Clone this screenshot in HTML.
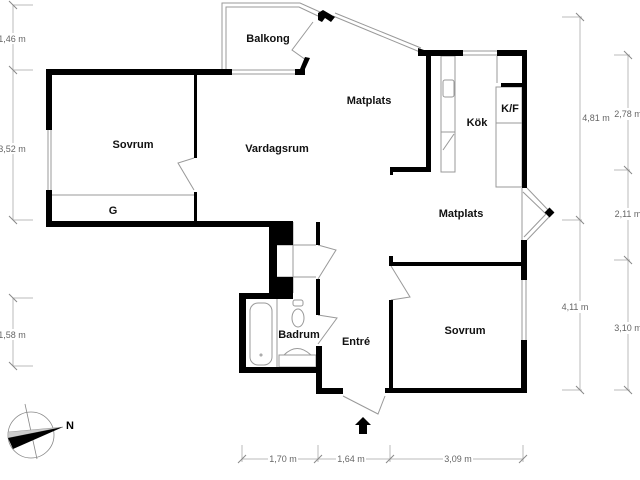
<!DOCTYPE html>
<html><head><meta charset="utf-8"><style>
html,body{margin:0;padding:0;background:#fff}
svg{display:block}
.l{font-family:"Liberation Sans",sans-serif;font-weight:bold;font-size:11px;fill:#111;text-anchor:middle}
.d{font-family:"Liberation Sans",sans-serif;font-size:9px;fill:#666;text-anchor:middle}
</style></head><body>
<svg width="640" height="480" viewBox="0 0 640 480" xmlns="http://www.w3.org/2000/svg">
<g fill="none" stroke="#bbb" stroke-width="1">
 <line x1="13" y1="5" x2="13" y2="220"/>
 <line x1="13" y1="5" x2="33" y2="5"/><line x1="13" y1="70" x2="33" y2="70"/><line x1="13" y1="220" x2="33" y2="220"/>
 <line x1="13" y1="298" x2="13" y2="366"/>
 <line x1="13" y1="298" x2="33" y2="298"/><line x1="13" y1="366" x2="33" y2="366"/>
 <line x1="580" y1="17" x2="580" y2="390"/>
 <line x1="562" y1="17" x2="582" y2="17"/><line x1="562" y1="220" x2="582" y2="220"/><line x1="562" y1="390" x2="582" y2="390"/>
 <line x1="628" y1="55" x2="628" y2="390"/>
 <line x1="614" y1="55" x2="630" y2="55"/><line x1="614" y1="170" x2="630" y2="170"/><line x1="614" y1="260" x2="630" y2="260"/><line x1="614" y1="390" x2="630" y2="390"/>
 <line x1="242" y1="459" x2="523" y2="459"/>
 <line x1="242" y1="445" x2="242" y2="462"/><line x1="318" y1="445" x2="318" y2="462"/><line x1="390" y1="445" x2="390" y2="462"/><line x1="523" y1="445" x2="523" y2="462"/>
</g>
<g stroke="#888" stroke-width="1">
 <line x1="9" y1="1" x2="17" y2="9"/><line x1="9" y1="66" x2="17" y2="74"/><line x1="9" y1="216" x2="17" y2="224"/>
 <line x1="9" y1="294" x2="17" y2="302"/><line x1="9" y1="362" x2="17" y2="370"/>
 <line x1="576" y1="13" x2="584" y2="21"/><line x1="576" y1="216" x2="584" y2="224"/><line x1="576" y1="386" x2="584" y2="394"/>
 <line x1="624" y1="51" x2="632" y2="59"/><line x1="624" y1="166" x2="632" y2="174"/><line x1="624" y1="256" x2="632" y2="264"/><line x1="624" y1="386" x2="632" y2="394"/>
 <line x1="238" y1="463" x2="246" y2="455"/><line x1="314" y1="463" x2="322" y2="455"/><line x1="386" y1="463" x2="394" y2="455"/><line x1="519" y1="463" x2="527" y2="455"/>
</g>
<rect x="0" y="33" width="28" height="11" fill="#fff"/>
<rect x="0" y="143" width="28" height="11" fill="#fff"/>
<rect x="0" y="329" width="28" height="11" fill="#fff"/>
<rect x="582" y="112" width="28" height="12" fill="#fff"/>
<rect x="560" y="301" width="28" height="12" fill="#fff"/>
<rect x="614" y="108" width="26" height="12" fill="#fff"/>
<rect x="614" y="208" width="26" height="12" fill="#fff"/>
<rect x="614" y="322" width="26" height="12" fill="#fff"/>
<rect x="268" y="453" width="30" height="12" fill="#fff"/>
<rect x="336" y="453" width="30" height="12" fill="#fff"/>
<rect x="443" y="453" width="30" height="12" fill="#fff"/>
<text class="d" x="12" y="42">1,46 m</text>
<text class="d" x="12" y="152">3,52 m</text>
<text class="d" x="12" y="338">1,58 m</text>
<text class="d" x="596" y="121">4,81 m</text>
<text class="d" x="575" y="310">4,11 m</text>
<text class="d" x="628" y="117">2,78 m</text>
<text class="d" x="628" y="217">2,11 m</text>
<text class="d" x="628" y="331">3,10 m</text>
<text class="d" x="283" y="462">1,70 m</text>
<text class="d" x="351" y="462">1,64 m</text>
<text class="d" x="458" y="462">3,09 m</text>

<g fill="none" stroke="#999" stroke-width="1">
 <polyline points="222,70 222,3 300,3 320,12"/>
 <polyline points="226,70 226,7 299,7 318,16"/>
 <line x1="232" y1="70" x2="295" y2="70"/><line x1="232" y1="74" x2="295" y2="74"/>
 <line x1="333" y1="16" x2="420" y2="52"/><line x1="335" y1="13" x2="421" y2="48"/>
 <polyline points="313,22 292,50 306,60"/>
 <line x1="48" y1="130" x2="48" y2="190"/><line x1="51" y1="130" x2="51" y2="190"/>
 <line x1="52" y1="195" x2="194" y2="195"/>
 <polyline points="194,158 178,163 194,190"/>
 <line x1="463" y1="51" x2="497" y2="51"/><line x1="463" y1="55" x2="497" y2="55"/>
 <rect x="441" y="56" width="14" height="116"/>
 <rect x="443" y="80" width="11" height="17" rx="2"/>
 <line x1="441" y1="132" x2="455" y2="132"/><line x1="443" y1="150" x2="454" y2="134"/>
 <line x1="497" y1="56" x2="497" y2="83"/>
 <rect x="496" y="87" width="26" height="100"/>
 <line x1="496" y1="123" x2="522" y2="123"/>
 <line x1="527" y1="188" x2="550" y2="212"/><line x1="523" y1="192" x2="546" y2="214"/>
 <line x1="550" y1="216" x2="527" y2="240"/><line x1="546" y1="214" x2="524" y2="237"/>
 <line x1="522" y1="188" x2="522" y2="242"/>
 <line x1="522" y1="280" x2="522" y2="340"/><line x1="526" y1="280" x2="526" y2="340"/>
 <polyline points="391,266 410,297 391,300"/>
 <line x1="293" y1="222" x2="293" y2="293"/>
 <line x1="277" y1="245" x2="316" y2="245"/><line x1="277" y1="277" x2="316" y2="277"/>
 <polyline points="318,245 336,250 318,279"/>
 <rect x="250" y="303" width="22" height="62" rx="8"/>
 <circle cx="261" cy="355" r="1"/>
 <line x1="277" y1="299" x2="277" y2="367"/>
 <ellipse cx="298" cy="318" rx="6" ry="9"/><rect x="293" y="300" width="10" height="6" rx="2"/>
 <rect x="279" y="355" width="37" height="12"/><path d="M284,355 Q297,342 311,355"/>
 <polyline points="318,315 337,318 318,344"/>
 <polyline points="343,396 378,414 385,396"/>
</g>

<g fill="#000">
 <rect x="46" y="69" width="186" height="6"/>
 <rect x="295" y="69" width="10" height="6"/>
 <polygon points="300,69 305,69 310,58 305,57"/>
 <polygon points="318,13 323,10 335,17 331,22 325,18 322,22 318,20"/>
 <polygon points="418,48 424,50 431,50 431,56 418,56"/>
 <rect x="46" y="69" width="6" height="61"/>
 <rect x="46" y="190" width="6" height="37"/>
 <rect x="46" y="221" width="230" height="6"/>
 <rect x="194" y="75" width="3" height="83"/>
 <rect x="194" y="192" width="3" height="30"/>
 <rect x="420" y="50" width="43" height="6"/>
 <rect x="497" y="50" width="30" height="6"/>
 <rect x="522" y="50" width="5" height="138"/>
 <rect x="426" y="50" width="5" height="122"/>
 <rect x="390" y="167" width="41" height="5"/>
 <rect x="390" y="167" width="3" height="8"/>
 <rect x="501" y="83" width="21" height="4"/>
 <rect x="546" y="209" width="7" height="7" transform="rotate(45 549.5 212.5)"/>
 <rect x="521" y="240" width="6" height="40"/>
 <rect x="521" y="340" width="6" height="53"/>
 <rect x="393" y="262" width="129" height="4"/>
 <rect x="389" y="256" width="4" height="10"/>
 <rect x="389" y="300" width="4" height="93"/>
 <rect x="385" y="388" width="142" height="5"/>
 <rect x="316" y="388" width="27" height="6"/>
 <rect x="316" y="346" width="6" height="48"/>
 <rect x="269" y="221" width="8" height="78"/>
 <rect x="269" y="221" width="24" height="24"/>
 <rect x="269" y="277" width="24" height="22"/>
 <rect x="316" y="222" width="4" height="23"/>
 <rect x="316" y="279" width="4" height="36"/>
 <rect x="239" y="293" width="54" height="6"/>
 <rect x="239" y="293" width="7" height="80"/>
 <rect x="239" y="367" width="83" height="6"/>
 <polygon points="363,417 371,425 367,425 367,434 359,434 359,425 355,425"/>
</g>

<g>
 <circle cx="31" cy="435" r="23" fill="none" stroke="#888" stroke-width="0.8"/>
 <line x1="25" y1="404" x2="37" y2="459" stroke="#888" stroke-width="0.8"/>
 <polygon points="8,432 63,427 8,438" fill="#ccc" stroke="#999" stroke-width="0.5"/>
 <polygon points="8,438 63,427 13,449" fill="#000"/>
 <text x="66" y="429" style="font-family:'Liberation Sans',sans-serif;font-weight:bold;font-size:11px">N</text>
</g>

<text class="l" x="268" y="42">Balkong</text>
<text class="l" x="369" y="104">Matplats</text>
<text class="l" x="133" y="148">Sovrum</text>
<text class="l" x="277" y="152">Vardagsrum</text>
<text class="l" x="113" y="214">G</text>
<text class="l" x="477" y="126">Kök</text>
<text class="l" x="510" y="112">K/F</text>
<text class="l" x="461" y="217">Matplats</text>
<text class="l" x="299" y="338">Badrum</text>
<text class="l" x="356" y="345">Entré</text>
<text class="l" x="465" y="334">Sovrum</text>
</svg>
</body></html>
